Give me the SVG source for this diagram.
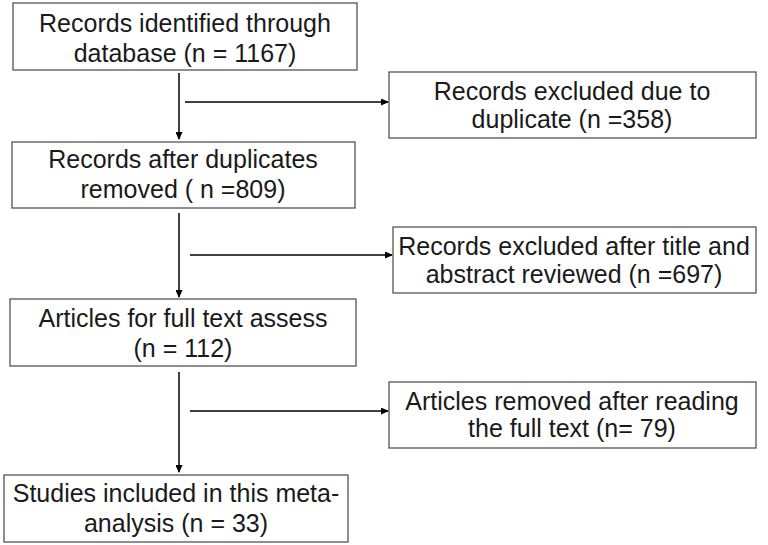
<svg xmlns="http://www.w3.org/2000/svg" width="768" height="545" viewBox="0 0 768 545">
<style>
.box{fill:#fff;stroke:#555;stroke-width:1.3}
.t{font-family:"Liberation Sans",Arial,Helvetica,sans-serif;font-size:25px;fill:#1a1a1a;text-anchor:middle}
.c{stroke:#000;stroke-width:1.5;fill:none;marker-end:url(#ah)}
</style>
<defs>
<marker id="ah" markerWidth="8" markerHeight="7" refX="7" refY="3.5" orient="auto" markerUnits="userSpaceOnUse">
<path d="M0,0 L8,3.5 L0,7 z" fill="#000"/>
</marker>
</defs>
<rect width="768" height="545" fill="#fff"/>
<g id="connectors">
<line class="c" x1="179" y1="73" x2="179" y2="139"/>
<line class="c" x1="185" y1="102" x2="388" y2="102"/>
<line class="c" x1="179" y1="213" x2="179" y2="297"/>
<line class="c" x1="190" y1="255" x2="392" y2="255"/>
<line class="c" x1="179" y1="372" x2="179" y2="472"/>
<line class="c" x1="190" y1="411" x2="388" y2="411"/>
</g>
<g id="n1">
<rect class="box" x="13" y="3" width="344" height="67"/>
<text class="t" x="185" y="32">Records identified through</text>
<text class="t" x="185" y="62">database (n = 1167)</text>
</g>
<g id="n2">
<rect class="box" x="389" y="72" width="367" height="66"/>
<text class="t" x="572" y="100">Records excluded due to</text>
<text class="t" x="572" y="128">duplicate (n =358)</text>
</g>
<g id="n3">
<rect class="box" x="12" y="142" width="343" height="66"/>
<text class="t" x="183" y="168">Records after duplicates</text>
<text class="t" x="183" y="198">removed ( n =809)</text>
</g>
<g id="n4">
<rect class="box" x="393" y="227" width="363" height="66"/>
<text class="t" x="574" y="255">Records excluded after title and</text>
<text class="t" x="574" y="283">abstract reviewed (n =697)</text>
</g>
<g id="n5">
<rect class="box" x="10" y="299" width="346" height="67"/>
<text class="t" x="183" y="327">Articles for full text assess</text>
<text class="t" x="183" y="357">(n = 112)</text>
</g>
<g id="n6">
<rect class="box" x="389" y="382" width="367" height="66"/>
<text class="t" x="572" y="410">Articles removed after reading</text>
<text class="t" x="572" y="437">the full text (n= 79)</text>
</g>
<g id="n7">
<rect class="box" x="4" y="475" width="344" height="67"/>
<text class="t" x="176" y="502">Studies included in this meta-</text>
<text class="t" x="176" y="532">analysis (n = 33)</text>
</g>
</svg>
